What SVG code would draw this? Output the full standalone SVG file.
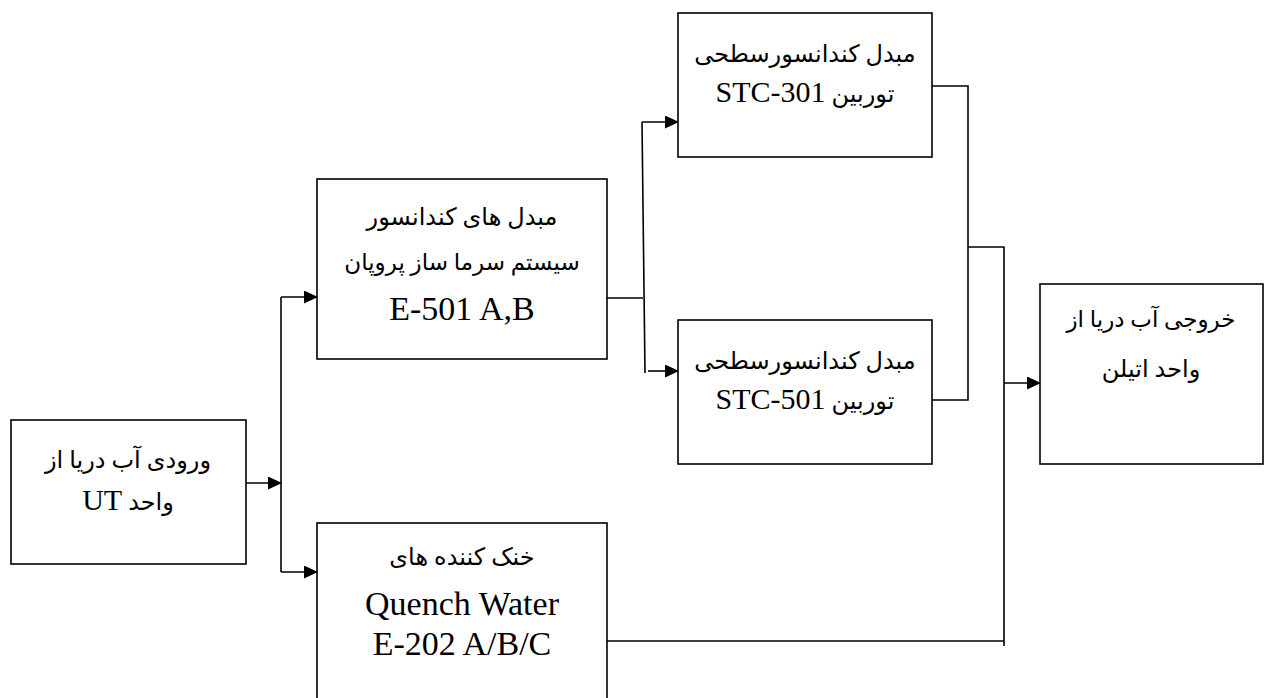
<svg xmlns="http://www.w3.org/2000/svg" width="1266" height="698" viewBox="0 0 1266 698">
<style>
.box{fill:#fff;stroke:#000;stroke-width:1.6}
.ln{fill:none;stroke:#000;stroke-width:1.6}
.t{font-family:"Liberation Serif","DejaVu Serif","DejaVu Sans",serif;fill:#000;text-anchor:middle}
.ar{direction:rtl;font-size:24px}
.la{font-size:34px}
.lm{font-size:30px}
</style>
<defs>
<marker id="ah" markerWidth="14" markerHeight="13" refX="13" refY="6.5" orient="auto" markerUnits="userSpaceOnUse">
<path d="M0,0 L14,6.5 L0,13 Z" fill="#000"/>
</marker>
</defs>
<rect width="1266" height="698" fill="#fff"/>
<g id="connectors">
<path class="ln" d="M246,483 H281" marker-end="url(#ah)"/>
<path class="ln" d="M281,297 V572"/>
<path class="ln" d="M281,297 H317" marker-end="url(#ah)"/>
<path class="ln" d="M281,572 H317" marker-end="url(#ah)"/>
<path class="ln" d="M607,298 H643"/>
<path class="ln" d="M642,122 L645,373"/>
<path class="ln" d="M642,122 H678" marker-end="url(#ah)"/>
<path class="ln" d="M648,371 H678" marker-end="url(#ah)"/>
<path class="ln" d="M932,86 H968 V400 H932"/>
<path class="ln" d="M968,247 H1004 V646"/>
<path class="ln" d="M1004,383 H1040" marker-end="url(#ah)"/>
<path class="ln" d="M607,641 H1004"/>
</g>
<g id="node-inlet">
<rect class="box" x="11" y="420" width="235" height="144"/>
<text class="t ar" x="128" y="468">ورودی آب دریا از</text>
<text class="t ar" x="128" y="510">واحد <tspan class="lm">UT</tspan></text>
</g>
<g id="node-e501">
<rect class="box" x="317" y="179" width="290" height="180"/>
<text class="t ar" x="462" y="225">مبدل های کندانسور</text>
<text class="t ar" x="462" y="270" style="font-size:23px">سیستم سرما ساز پروپان</text>
<text class="t la" x="462" y="320">E-501 A,B</text>
</g>
<g id="node-quench">
<rect class="box" x="317" y="523" width="290" height="200"/>
<text class="t ar" x="462" y="565">خنک کننده های</text>
<text class="t la" x="462" y="615">Quench Water</text>
<text class="t la" x="462" y="655">E-202 A/B/C</text>
</g>
<g id="node-stc301">
<rect class="box" x="678" y="13" width="254" height="144"/>
<text class="t ar" x="805" y="62">مبدل کندانسورسطحی</text>
<text class="t ar" x="805" y="102">توربین <tspan class="lm">STC-301</tspan></text>
</g>
<g id="node-stc501">
<rect class="box" x="678" y="320" width="254" height="144"/>
<text class="t ar" x="805" y="369">مبدل کندانسورسطحی</text>
<text class="t ar" x="805" y="409">توربین <tspan class="lm">STC-501</tspan></text>
</g>
<g id="node-outlet">
<rect class="box" x="1040" y="284" width="223" height="180"/>
<text class="t ar" x="1151" y="327" style="font-size:23px">خروجی آب دریا از</text>
<text class="t ar" x="1151" y="377">واحد اتیلن</text>
</g>
</svg>
